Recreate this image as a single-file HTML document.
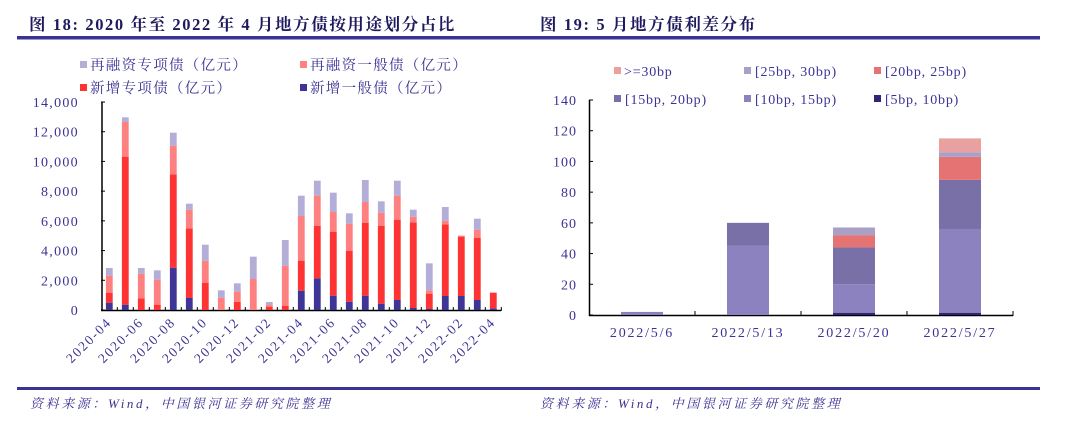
<!DOCTYPE html>
<html><head><meta charset="utf-8"><style>
body{margin:0;background:#fff;width:1080px;height:422px;overflow:hidden}
svg text{font-family:"Liberation Serif","Noto Serif CJK SC",serif}
</style></head><body>
<svg id="s" width="1080" height="422" xmlns="http://www.w3.org/2000/svg">
<rect x="17" y="36" width="1023" height="3.5" fill="#3b3394"/>
<rect x="17" y="387" width="1023" height="3" fill="#3b3394"/>
<text x="29" y="30" font-size="16.5" font-weight="bold" fill="#1e1a5e" letter-spacing="1.6">图 18:  2020 年至 2022 年 4 月地方债按用途划分占比</text>
<text x="540" y="30" font-size="16.5" font-weight="bold" fill="#1e1a5e" letter-spacing="1.6">图 19:  5 月地方债利差分布</text>
<text x="30" y="408" font-size="13" font-style="italic" fill="#3b3394" letter-spacing="2.6">资料来源：Wind，中国银河证券研究院整理</text>
<text x="540" y="408" font-size="13" font-style="italic" fill="#3b3394" letter-spacing="2.6">资料来源：Wind，中国银河证券研究院整理</text>
<g font-size="14" fill="#3b3394" letter-spacing="0.8">
<rect x="80" y="61" width="7" height="7" fill="#b3aed8"/><text x="90" y="70" font-size="14.5" letter-spacing="1.3">再融资专项债（亿元）</text>
<rect x="300" y="61" width="7" height="7" fill="#ff8080"/><text x="310" y="70" font-size="14.5" letter-spacing="1.3">再融资一般债（亿元）</text>
<rect x="80" y="84" width="7" height="7" fill="#ff3333"/><text x="90" y="93" font-size="14.5" letter-spacing="1.3">新增专项债（亿元）</text>
<rect x="300" y="84" width="7" height="7" fill="#3f3597"/><text x="310" y="93" font-size="14.5" letter-spacing="1.3">新增一般债（亿元）</text>
<rect x="614" y="67" width="7" height="7" fill="#e8a0a0"/><text x="624" y="76">&gt;=30bp</text>
<rect x="744" y="67" width="7" height="7" fill="#a9a0c8"/><text x="755" y="76">[25bp, 30bp)</text>
<rect x="874" y="67" width="7" height="7" fill="#e57373"/><text x="885" y="76">[20bp, 25bp)</text>
<rect x="614" y="95" width="7" height="7" fill="#7a70a8"/><text x="625" y="104">[15bp, 20bp)</text>
<rect x="744" y="95" width="7" height="7" fill="#8b82bf"/><text x="755" y="104">[10bp, 15bp)</text>
<rect x="874" y="95" width="7" height="7" fill="#2e2577"/><text x="885" y="104">[5bp, 10bp)</text>
</g>
<g id="L"></g><g id="R"></g>
</svg>
<script>
var NS="http://www.w3.org/2000/svg";
function el(p,t,a,txt){var e=document.createElementNS(NS,t);for(var k in a)e.setAttribute(k,a[k]);if(txt!=null)e.textContent=txt;p.appendChild(e);return e;}
var L=document.getElementById('L'),R=document.getElementById('R');
var z0=310,pp=(310-102)/14;
for(var i=0;i<=7;i++){var v=i*2;var y=z0-v*pp;
el(L,'text',{x:79,y:y+5,'text-anchor':'end','font-size':14,fill:'#3b3394','letter-spacing':'1.3'},v==0?'0':(v+',000'));
el(L,'line',{x1:101,x2:105,y1:y,y2:y,stroke:'#000'});}
el(L,'line',{x1:102,x2:102,y1:102,y2:311,stroke:'#000','stroke-width':1.5});
el(L,'line',{x1:101,x2:501,y1:310.5,y2:310.5,stroke:'#000','stroke-width':1.5});
var D=[[638,608,557,534],[644,200,96,82],[660,625,551,534],[660,644,569,541],[533,253,167,128],[624,415,359,341],[660,578,512,464],[660,660,623,601],[660,636,605,580],[660,660,567,500],[660,650,645,636],[660,647,527,450],[602,512,378,317],[565,408,317,272],[617,425,366,308],[635,483,401,370],[617,398,336,270],[641,408,368,334],[630,389,317,272],[654,397,380,359],[657,611,601,520],[618,403,392,351],[618,440,437,437],[630,443,419,386],[655,608,608,608]];
var C=['#3f3597','#ff3333','#ff8080','#b3aed8'];
var labs=['2020-04','2020-06','2020-08','2020-10','2020-12','2021-02','2021-04','2021-06','2021-08','2021-10','2021-12','2022-02','2022-04'];
D.forEach(function(d,i){var cx=109.3+i*16;var prev=660;
for(var j=0;j<4;j++){var t=d[j];if(t<prev){el(L,'rect',{x:cx-3.4,y:90+t/3,width:6.8,height:(prev-t)/3,fill:C[j]});prev=t;}}
el(L,'line',{x1:cx+8,x2:cx+8,y1:307,y2:311,stroke:'#000'});
if(i%2==0){el(L,'text',{x:cx+3,y:323,'text-anchor':'end','font-size':13.5,fill:'#3b3394','letter-spacing':'1.8',transform:'rotate(-45 '+(cx+3)+' 323)'},labs[i/2]);}
});
var r0=315,rp=(315-100)/140;
for(var i=0;i<=7;i++){var y=r0-i*20*rp;
el(R,'text',{x:577,y:y+5,'text-anchor':'end','font-size':14,fill:'#3b3394','letter-spacing':'1'},String(i*20));
el(R,'line',{x1:589,x2:593,y1:y,y2:y,stroke:'#000'});}
el(R,'line',{x1:589.5,x2:589.5,y1:100,y2:316,stroke:'#000','stroke-width':1.5});
el(R,'line',{x1:589,x2:1013,y1:315.5,y2:315.5,stroke:'#000','stroke-width':1.5});
var RC=['#2e2577','#8b82bf','#7a70a8','#e57373','#a9a0c8','#e8a0a0'];
var RD=[[0,2,2,2,2,2],[0,45,60,60,60,60],[1.5,20,44,52,57,57],[1.5,56,88,103,106,115]];
var names=['2022/5/6','2022/5/13','2022/5/20','2022/5/27'];
RD.forEach(function(d,i){var cx=642+i*106;var prev=0;
for(var j=0;j<6;j++){if(d[j]>prev){el(R,'rect',{x:cx-21,y:r0-d[j]*rp,width:42,height:(d[j]-prev)*rp,fill:RC[j]});prev=d[j];}}
el(R,'text',{x:cx,y:337,'text-anchor':'middle','font-size':14,fill:'#3b3394','letter-spacing':'1.8'},names[i]);
el(R,'line',{x1:695+i*106,x2:695+i*106,y1:311,y2:316,stroke:'#000'});
});
</script>
</body></html>
